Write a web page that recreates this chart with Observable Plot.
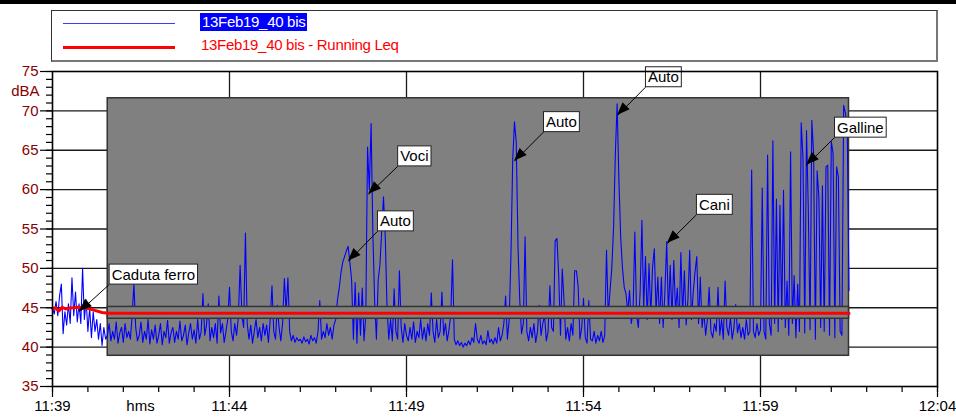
<!DOCTYPE html>
<html><head><meta charset="utf-8">
<script src="https://cdn.jsdelivr.net/npm/d3@7"></script>
<script src="https://cdn.jsdelivr.net/npm/@observablehq/plot@0.6"></script>
<style>
html,body{margin:0;padding:0;background:#fff;overflow:hidden;width:956px;height:417px;font-family:"Liberation Sans",Arial,sans-serif;}
#topbar{position:absolute;left:0;top:0;width:956px;height:4px;background:#000;}
#legend{position:absolute;left:51px;top:10px;width:884px;height:49px;border-left:1px solid #333;border-top:1px solid #333;border-right:2px solid #777;border-bottom:2px solid #777;}
.sw{position:absolute;left:11px;width:112px;}
.lt{position:absolute;font-size:15px;line-height:18px;white-space:nowrap;letter-spacing:-0.3px;}
#chart{position:absolute;left:0;top:62px;}
</style></head>
<body>
<div id="topbar"></div>
<div id="legend">
  <div class="sw" style="top:12px;height:1px;background:#3b3bff"></div>
  <div class="lt" style="left:148px;top:2px;background:#0000ff;color:#fff;padding:0 2px">13Feb19_40 bis</div>
  <div class="sw" style="top:35px;height:3px;background:#ff0000"></div>
  <div class="lt" style="left:149px;top:25px;color:#ff0000">13Feb19_40 bis - Running Leq</div>
</div>
<div id="chart"></div>
<script>
// sound level samples, one every STEP minutes from 11:39:00 (dBA)
const STEP = 0.05;
const levels = [
45.0,44.2,45.8,44.0,46.5,48.0,41.7,44.5,42.8,45.5,
43.0,48.8,44.0,47.0,43.2,45.5,43.0,50.0,43.5,46.0,
42.0,45.0,41.2,44.5,42.0,43.5,41.0,43.0,40.2,42.5,
41.0,
41.5,43.0,40.8,42.0,41.0,43.2,40.5,41.8,42.5,40.6,
43.0,41.2,42.0,41.0,44.0,48.0,42.5,40.8,41.5,43.2,
40.6,42.0,41.0,43.5,40.4,42.2,41.0,42.8,40.5,41.5,
43.0,40.3,42.0,41.2,43.4,40.5,41.8,42.5,40.6,42.0,
41.0,43.3,40.8,41.5,42.8,40.3,41.8,43.0,41.0,42.2,
40.5,43.5,41.0,42.0,46.8,41.5,42.8,45.5,40.8,42.5,
41.2,43.0,40.5,46.5,41.8,43.0,40.6,42.0,43.5,47.6,
42.0,40.8,43.0,41.5,43.8,50.4,44.0,42.5,54.5,43.0,
41.0,42.8,40.5,42.0,43.5,41.2,42.5,40.8,43.0,41.5,
42.8,40.6,43.5,47.8,42.0,41.0,45.3,42.5,40.8,43.0,
48.7,44.5,48.8,42.0,40.8,41.5,40.6,41.2,40.8,41.0,
40.5,41.3,40.7,41.0,40.4,41.5,40.8,41.2,40.5,42.0,
45.9,41.0,42.0,41.2,43.0,41.5,42.5,41.0,42.8,
43.5,46.0,47.5,49.5,50.8,51.5,52.2,52.8,50.8,48.5,
41.0,48.2,40.5,46.9,41.5,47.5,40.8,44.0,65.4,60.0,
68.4,54.4,45.9,41.0,48.5,50.5,54.8,59.1,54.0,45.0,
41.0,43.5,40.8,47.4,42.0,41.0,49.7,42.5,40.6,43.0,
41.5,40.8,42.5,41.0,43.2,40.6,42.0,41.2,43.5,41.0,
42.5,40.8,43.0,41.5,46.9,42.0,40.6,43.5,41.2,42.0,
47.0,41.5,43.0,40.8,42.2,44.0,51.1,41.0,40.3,40.8,
40.2,40.6,40.0,40.5,40.2,40.8,40.3,41.2,40.6,43.0,
41.0,40.5,41.5,40.4,40.8,40.3,42.1,40.6,41.0,40.4,
41.2,40.5,42.5,40.8,41.5,43.0,46.5,41.0,43.4,51.5,
63.7,68.6,66.0,52.7,45.9,41.7,43.0,54.0,42.0,40.8,
42.5,41.2,43.0,40.6,42.0,45.3,41.5,43.0,44.0,40.8,
42.0,47.8,42.5,42.0,53.5,53.8,49.1,41.5,49.9,45.9,
41.0,42.5,40.8,43.0,41.5,49.7,49.7,47.6,41.0,42.5,
46.2,41.2,40.5,45.9,41.0,40.8,42.0,40.5,41.5,40.8,
42.0,40.6,41.5,52.3,44.0,47.2,50.1,
55.2,64.6,70.9,61.2,54.0,50.1,47.6,46.8,44.5,47.2,
43.0,44.5,54.6,44.0,42.5,47.0,56.1,45.0,51.5,43.5,
50.6,44.0,50.1,52.5,44.5,48.9,43.0,48.9,42.5,47.0,
53.4,44.0,50.4,43.5,51.0,44.5,47.5,42.5,52.0,44.0,
49.7,42.8,46.0,52.3,43.5,47.0,49.5,51.5,43.0,48.9,
42.5,44.5,41.5,43.5,47.6,42.0,41.2,43.0,42.0,47.6,
41.5,43.5,41.0,48.4,42.5,41.5,43.8,41.0,42.5,45.4,
41.8,43.0,41.2,42.5,41.0,43.5,41.5,42.0,
62.5,42.0,41.2,43.0,41.5,42.2,60.2,42.0,41.0,64.4,
43.0,41.5,66.2,43.0,58.8,42.0,58.0,43.5,59.9,42.5,
48.4,41.5,64.8,43.0,49.1,41.2,48.0,42.0,68.5,64.1,
41.8,67.5,57.6,42.2,68.8,64.6,41.0,62.4,59.0,42.5,
60.5,42.0,62.9,63.1,41.5,66.1,64.6,41.2,62.9,61.6,
42.0,41.5,70.7,69.7,68.0,47.2
];

// running Leq (minutes from 11:39, dBA)
const leqTimes  = [0, 0.08, 0.18, 0.27, 0.37, 0.46, 0.70, 0.93, 1.17, 1.40, 1.59, 22.5];
const leqValues = [44.9, 45.0, 44.6, 45.05, 44.85, 44.95, 45.05, 45.0, 44.7, 44.4, 44.3, 44.3];

// axes
const xTicks = [0, 5, 10, 15, 20, 25];
const xTickLabels = ["11:39", "11:44", "11:49", "11:54", "11:59", "12:04"];
const yTicks = [35, 40, 45, 50, 55, 60, 65, 70, 75];

// shaded regions (minutes, dBA)
const maskTimes = [1.56, 22.5];
const maskLevels = [38.9, 71.6];
const bandLevels = [43.6, 45.1];

// annotations: label box corner and arrow tip (minutes, dBA)
const annLabels = ["Caduta ferro", "Auto", "Voci", "Auto", "Auto", "Cani", "Galline"];
const annBoxT = [1.60, 9.18, 9.75, 13.87, 16.75, 18.19, 22.09];
const annBoxV = [47.94, 54.7, 62.95, 67.3, 73.0, 56.8, 66.6];
const annTipT = [0.76, 8.36, 8.93, 13.05, 15.96, 17.37, 21.30];
const annTipV = [44.5, 50.9, 59.4, 63.6, 69.4, 53.15, 63.1];

const samples = levels.map((v, i) => ({t: i * STEP, v}));
const leq = leqTimes.map((t, i) => ({t, v: leqValues[i]}));
const ann = annLabels.map((label, i) => ({label, bx: annBoxT[i], by: annBoxV[i], tx: annTipT[i], ty: annTipV[i]}));
const mask = [{x1: maskTimes[0], x2: maskTimes[1], y1: maskLevels[0], y2: maskLevels[1]}];
const band = [{x1: maskTimes[0], x2: maskTimes[1], y1: bandLevels[0], y2: bandLevels[1]}];

const gridStyle = {stroke: "#1a1a1a", strokeOpacity: 1, strokeWidth: 1.3};
const plot = Plot.plot({
  width: 956, height: 355,
  marginTop: 9, marginBottom: 31, marginLeft: 52, marginRight: 19,
  style: {fontFamily: "Liberation Sans, Arial, sans-serif", fontSize: "15px", background: "transparent", overflow: "visible"},
  x: {type: "linear", domain: [0, 25]},
  y: {type: "linear", domain: [35, 75]},
  marks: [
    Plot.gridY(yTicks.slice(1, -1), gridStyle),
    Plot.gridX(xTicks.slice(1, -1), gridStyle),
    Plot.rect(mask, {x1: "x1", x2: "x2", y1: "y1", y2: "y2", fill: "#808080", stroke: "#333", strokeWidth: 1.5}),
    Plot.line(samples, {x: "t", y: "v", stroke: "#0000ff", strokeWidth: 1.1}),
    Plot.rect(band, {x1: "x1", x2: "x2", y1: "y1", y2: "y2", fill: "#808080", stroke: "#333", strokeWidth: 1.5}),
    Plot.line(leq, {x: "t", y: "v", stroke: "#ff0000", strokeWidth: 3}),
    Plot.link(ann, {x1: "bx", y1: "by", x2: "tx", y2: "ty", stroke: "black", strokeWidth: 1}),
    Plot.text(ann, {x: "bx", y: "by", text: "label", textAnchor: "start", lineAnchor: "bottom", dx: 2.5, dy: -5, fill: "black", className: "annlabel"}),
    Plot.frame({stroke: "black", strokeWidth: 1.6}),
    Plot.axisY(d3.range(35, 76), {tickSize: 6, tickFormat: () => "", label: null, stroke: "black", strokeWidth: 1.2}),
    Plot.axisY(yTicks, {tickSize: 12, tickPadding: 2, label: null, fill: "#8b0000", stroke: "black", strokeWidth: 1.2, className: "ymajor"}),
    Plot.axisX(d3.range(0, 26), {tickSize: 6, tickFormat: () => "", label: null, stroke: "black", strokeWidth: 1.2}),
    Plot.axisX(xTicks, {tickSize: 11, tickPadding: 3, tickFormat: d => xTickLabels[xTicks.indexOf(d)], label: null, fill: "black", stroke: "black", strokeWidth: 1.2}),
    Plot.text(["hms"], {frameAnchor: "bottom-left", text: d => d, dx: 88, dy: 14, lineAnchor: "top", textAnchor: "middle", fill: "black"}),
    Plot.text(["dBA"], {frameAnchor: "top-left", text: d => d, dx: -13, dy: 14, textAnchor: "end", fill: "#8b0000"})
  ]
});
document.getElementById("chart").appendChild(plot);

// white label boxes behind the annotation texts
const NS = "http://www.w3.org/2000/svg";
d3.select(plot).selectAll("g.annlabel text").each(function () {
  const b = this.getBBox();
  const r = document.createElementNS(NS, "rect");
  r.setAttribute("x", b.x - 2.5);
  r.setAttribute("y", b.y - 1.5);
  r.setAttribute("width", b.width + 5);
  r.setAttribute("height", b.height + 3);
  r.setAttribute("fill", "white");
  r.setAttribute("stroke", "#222");
  r.setAttribute("stroke-width", "1");
  const tr = this.getAttribute("transform");
  if (tr) r.setAttribute("transform", tr);
  this.parentNode.insertBefore(r, this);
});
d3.select(plot).selectAll("g.ymajor text").attr("fill", "#8b0000");

// filled arrowheads at the annotation tips, placed through the plot's scales
const sx = plot.scale("x"), sy = plot.scale("y");
const fx = sx.apply ? v => sx.apply(v) : d3.scaleLinear(sx.domain, sx.range);
const fy = sy.apply ? v => sy.apply(v) : d3.scaleLinear(sy.domain, sy.range);
const heads = d3.select(plot).append("g");
ann.forEach(a => {
  const x0 = fx(a.bx), y0 = fy(a.by), x1 = fx(a.tx), y1 = fy(a.ty);
  const len = Math.hypot(x1 - x0, y1 - y0), ux = (x1 - x0) / len, uy = (y1 - y0) / len;
  const L = 13, W = 5, bx = x1 - L * ux, by = y1 - L * uy;
  heads.append("polygon")
    .attr("points", [[x1, y1], [bx - W * uy, by + W * ux], [bx + W * uy, by - W * ux]].map(p => p.join(",")).join(" "))
    .attr("fill", "black");
});
</script>
</body></html>
